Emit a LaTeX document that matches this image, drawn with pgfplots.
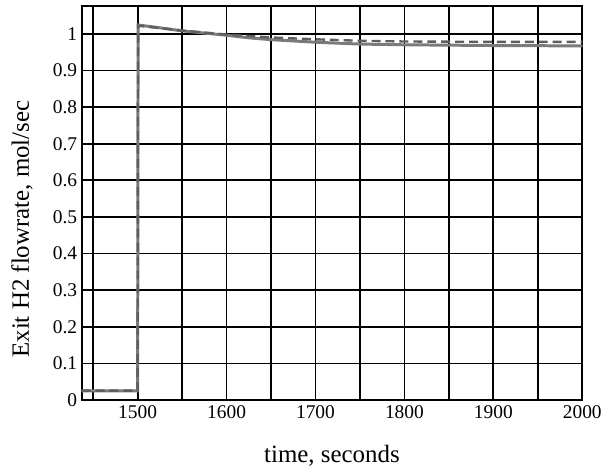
\documentclass[border=0pt]{standalone}
\usepackage{pgfplots}
\pgfplotsset{compat=1.18}
\usepackage{fontspec}
\setmainfont{Liberation Serif}
\definecolor{solidgray}{HTML}{7A7A7A}
\definecolor{dashgray}{HTML}{5E5E5E}
\begin{document}
\begin{tikzpicture}
\begin{axis}[
  scale only axis,
  width=503pt, height=396pt,
  xmin=1437, xmax=2000,
  ymin=0, ymax=1.076,
  xtick={1450,1500,1550,1600,1650,1700,1750,1800,1850,1900,1950,2000},
  xticklabels={,1500,,1600,,1700,,1800,,1900,,2000},
  ytick={0,0.1,0.2,0.3,0.4,0.5,0.6,0.7,0.8,0.9,1},
  yticklabels={0,0.1,0.2,0.3,0.4,0.5,0.6,0.7,0.8,0.9,1},
  xmajorgrids, ymajorgrids,
  major grid style={black, line width=1.8pt},
  tick style={draw=none},
  axis line style={black, line width=1.8pt},
  tick label style={font=\fontsize{19.5}{21}\selectfont},
  label style={font=\fontsize{25}{27}\selectfont},
  xlabel={time, seconds},
  ylabel={Exit H2 flowrate, mol/sec},
  xlabel style={at={(axis description cs:0.5,0)}, anchor=center, yshift=-56pt},
  ylabel style={at={(axis description cs:-0.119,0.434)}, anchor=center},
  /pgf/number format/assume math mode=true,
  xticklabel style={yshift=-2pt},
  yticklabel style={xshift=-1pt},
]
\addplot[solidgray, line width=3pt] coordinates {
(1437,0.025) (1500,0.025) (1500.5,1.024) (1520,1.018) (1550,1.008) (1600,0.996)
(1625,0.989) (1650,0.984) (1700,0.977) (1750,0.972) (1800,0.970) (1900,0.968) (2000,0.967)
};
\addplot[dashgray, line width=2.4pt, dash pattern=on 9pt off 5pt] coordinates {
(1437,0.026) (1500,0.026) (1500.5,1.022) (1520,1.017) (1550,1.009) (1600,0.998)
(1650,0.990) (1700,0.985) (1750,0.981) (1800,0.979) (1900,0.978) (2000,0.978)
};
\end{axis}
\path ([xshift=-82pt,yshift=-71pt]current axis.south west) rectangle ([xshift=20pt,yshift=6pt]current axis.north east);
\end{tikzpicture}
\end{document}
